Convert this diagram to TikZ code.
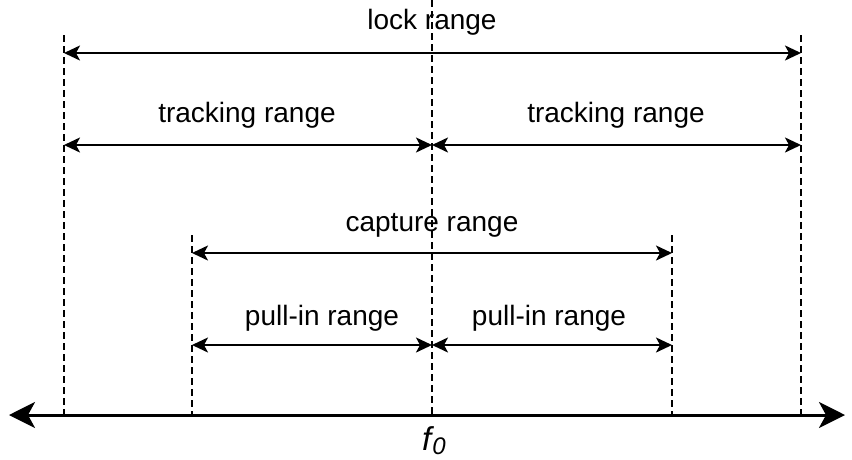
\documentclass[tikz,border=0pt]{standalone}
\usepackage{fontspec}
\setmainfont{Liberation Sans}
\usetikzlibrary{arrows.meta}
\begin{document}
\begin{tikzpicture}[x=1pt,y=-1pt,
  guide/.style={line width=1.3pt, dash pattern=on 7pt off 4pt},
  rangearrow/.style={line width=2pt, {Stealth[length=16pt,width=15pt,inset=4pt]}-{Stealth[length=16pt,width=15pt,inset=4pt]}},
  axisline/.style={line width=3pt, {Stealth[length=26pt,width=26pt,inset=7pt]}-{Stealth[length=26pt,width=26pt,inset=7pt]}},
  lbl/.style={font=\fontsize{28}{32}\selectfont, inner sep=0pt, fill=none}]
\useasboundingbox (0,0) rectangle (852,459);
% guide coordinates
\coordinate (lt) at (64,35);   \coordinate (lb) at (64,415);
\coordinate (ct) at (432,0);   \coordinate (cb) at (432,415);
\coordinate (rt) at (801,35);  \coordinate (rb) at (801,415);
\coordinate (clt) at (192,235); \coordinate (clb) at (192,415);
\coordinate (crt) at (672,235); \coordinate (crb) at (672,415);
% guides
\draw[guide] (lt) -- (lb);
\draw[guide] (ct) -- (cb);
\draw[guide] (rt) -- (rb);
\draw[guide] (clt) -- (clb);
\draw[guide] (crt) -- (crb);
% range ends
\coordinate (lockL) at (64,53);  \coordinate (lockR) at (801,53);
\coordinate (trL) at (64,145);   \coordinate (trM) at (432,145); \coordinate (trR) at (801,145);
\coordinate (capL) at (192,253); \coordinate (capR) at (672,253);
\coordinate (piL) at (192,345);  \coordinate (piM) at (432,345); \coordinate (piR) at (672,345);
\draw[rangearrow] (lockL) -- (lockR);
\draw[rangearrow] (trL) -- (trM);
\draw[rangearrow] (trM) -- (trR);
\draw[rangearrow] (capL) -- (capR);
\draw[rangearrow] (piL) -- (piM);
\draw[rangearrow] (piM) -- (piR);
% axis
\coordinate (axL) at (9,415); \coordinate (axR) at (845,415);
\draw[axisline] (axL) -- (axR);
% labels
\node[lbl] (lockT) at (432,22) {lock range};
\node[lbl] (trT1) at (247,115) {tracking range};
\node[lbl] (trT2) at (616,115) {tracking range};
\node[lbl] (capT) at (432,225) {capture range};
\node[lbl] (piT1) at (322,318) {pull-in range};
\node[lbl] (piT2) at (549,318) {pull-in range};
\node[inner sep=0pt] (f0) at (434,441) {\fontsize{33}{40}\selectfont\itshape f\kern1pt\raisebox{-4pt}{\fontsize{24}{30}\selectfont 0}};
\end{tikzpicture}
\end{document}
